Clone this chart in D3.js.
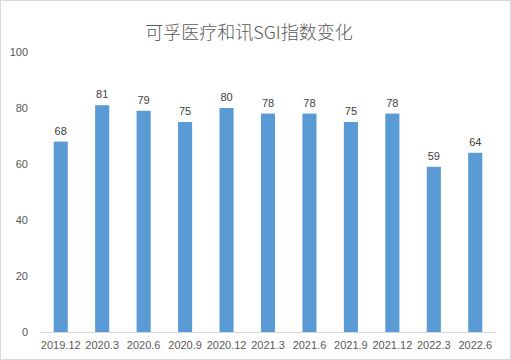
<!DOCTYPE html>
<html>
<head>
<meta charset="utf-8">
<script src="https://cdn.jsdelivr.net/npm/d3@7"></script>
<style>
  body { margin: 0; background: #fff; }
</style>
</head>
<body>
<script>
var width = 511;
var height = 360;

var categories = ["2019.12", "2020.3", "2020.6", "2020.9", "2020.12", "2021.3", "2021.6", "2021.9", "2021.12", "2022.3", "2022.6"];
var values = [68, 81, 79, 75, 80, 78, 78, 75, 78, 59, 64];
var yTicks = [0, 20, 40, 60, 80, 100];

var svg = d3.select("body")
    .append("svg")
    .attr("width", width)
    .attr("height", height)
    .style("display", "block");

// outer border
svg.append("rect")
    .attr("x", 0.5)
    .attr("y", 0.5)
    .attr("width", width - 1)
    .attr("height", height - 1)
    .attr("fill", "white")
    .attr("stroke", "#d9d9d9");

svg.append("text")
    .attr("x", 249)
    .attr("y", 39)
    .attr("text-anchor", "middle")
    .attr("font-family", "'Noto Sans CJK SC', sans-serif")
    .attr("font-size", "18px")
    .attr("font-weight", 300)
    .attr("fill", "#595959")
    .text("可孚医疗和讯SGI指数变化");

var x = d3.scaleBand()
    .domain(categories)
    .range([40, 496])
    .paddingInner(0.66)
    .paddingOuter(0.33);

var y = d3.scaleLinear()
    .domain([0, 100])
    .range([332, 52]);

// y tick labels
svg.append("g")
    .selectAll("text")
    .data(yTicks)
    .join("text")
    .attr("x", 28)
    .attr("y", d => y(d) + 4)
    .attr("text-anchor", "end")
    .attr("font-family", "'Liberation Sans', Arial, sans-serif")
    .attr("font-size", "11px")
    .attr("fill", "#595959")
    .text(d => d);

// bars
svg.append("g")
    .selectAll("rect")
    .data(values)
    .join("rect")
    .attr("x", (d, i) => x(categories[i]))
    .attr("y", d => y(d))
    .attr("width", x.bandwidth())
    .attr("height", d => y(0) - y(d))
    .attr("fill", "#5b9bd5");

// value labels
svg.append("g")
    .selectAll("text")
    .data(values)
    .join("text")
    .attr("x", (d, i) => x(categories[i]) + x.bandwidth() / 2)
    .attr("y", d => y(d) - 7)
    .attr("text-anchor", "middle")
    .attr("font-family", "'Liberation Sans', Arial, sans-serif")
    .attr("font-size", "11px")
    .attr("fill", "#404040")
    .text(d => d);

// x axis
var xAxis = svg.append("g")
    .attr("transform", "translate(0," + y(0) + ")")
    .call(d3.axisBottom(x).tickSize(0).tickPadding(9));

xAxis.select(".domain")
    .attr("stroke", "#d9d9d9");

xAxis.selectAll("text")
    .attr("font-family", "'Liberation Sans', Arial, sans-serif")
    .attr("font-size", "11px")
    .attr("fill", "#595959");
</script>
</body>
</html>
